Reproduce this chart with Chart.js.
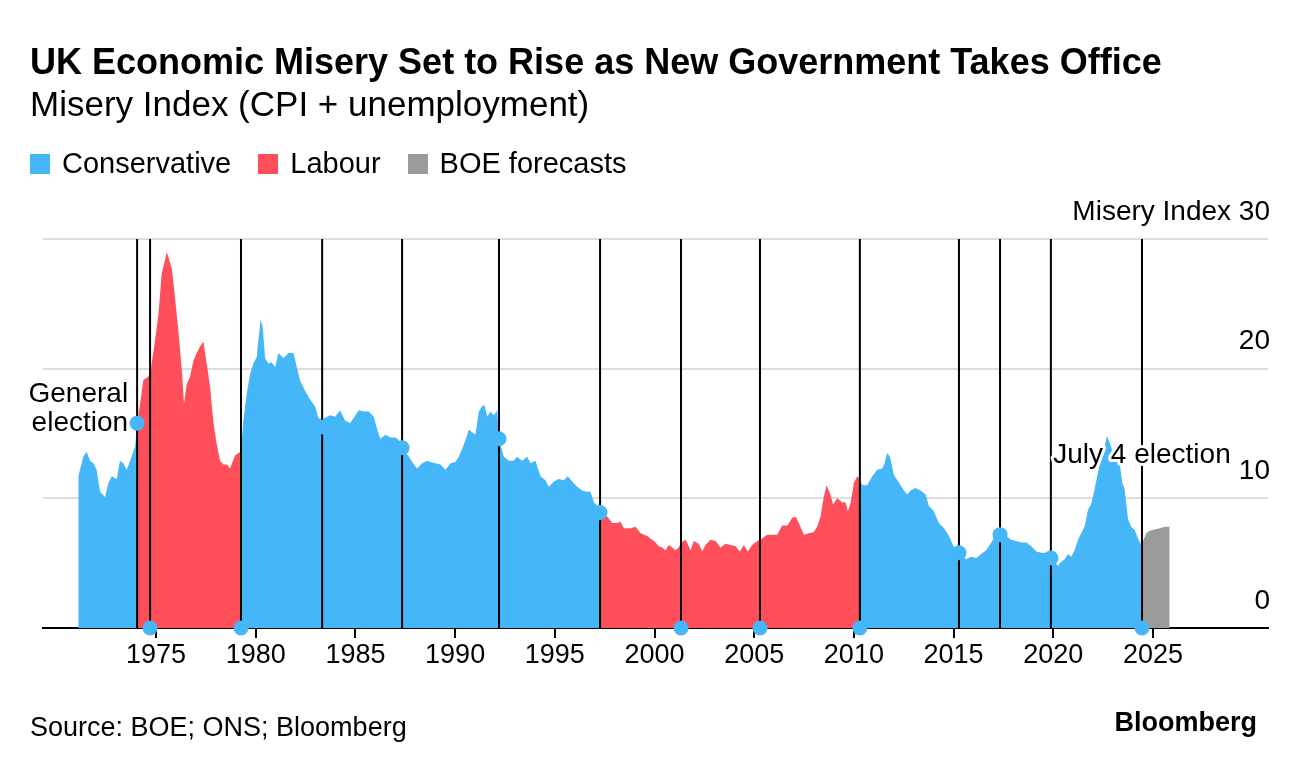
<!DOCTYPE html>
<html><head><meta charset="utf-8">
<script src="https://cdn.jsdelivr.net/npm/chart.js@4.4.1/dist/chart.umd.min.js"></script>
<style>
html,body{margin:0;padding:0;background:#fff;}
body{width:1296px;height:770px;position:relative;overflow:hidden;font-family:"Liberation Sans",Arial,sans-serif;color:#000;}
#chart{position:absolute;left:0;top:0;}
.t{position:absolute;white-space:nowrap;line-height:1;}
#title{left:30px;top:44px;font-size:36px;font-weight:bold;}
#subtitle{left:30px;top:86px;font-size:35px;}
#legend{position:absolute;left:30px;top:149px;font-size:29px;line-height:1;display:flex;white-space:nowrap;}
.item{display:flex;align-items:center;margin-right:27px;}
.sw{width:20px;height:20px;margin-right:12px;}
#source{left:30px;top:714px;font-size:27px;}
#logo{right:39px;top:709px;font-size:27px;font-weight:bold;}
</style></head>
<body>
<canvas id="chart" width="1296" height="770"></canvas>
<div class="t" id="title">UK Economic Misery Set to Rise as New Government Takes Office</div>
<div class="t" id="subtitle">Misery Index (CPI + unemployment)</div>
<div id="legend">
  <div class="item"><span class="sw" style="background:#45b6f8"></span>Conservative</div>
  <div class="item"><span class="sw" style="background:#ff4f5b"></span>Labour</div>
  <div class="item"><span class="sw" style="background:#9b9b9b"></span>BOE forecasts</div>
</div>
<div class="t" id="source">Source: BOE; ONS; Bloomberg</div>
<div class="t" id="logo">Bloomberg</div>
<script>
// ---- data (decimal years) ----
const dates = [
1971.10,1971.35,1971.52,1971.69,1971.86,1972.02,1972.19,1972.44,1972.61,1972.78,
1973.03,1973.19,1973.36,1973.53,1973.70,1973.95,1974.05,1974.20,1974.36,1974.62,
1974.70,1974.78,1974.95,1975.12,1975.28,1975.54,1975.79,1975.95,1976.12,1976.29,
1976.40,1976.54,1976.71,1976.87,1977.04,1977.21,1977.37,1977.54,1977.71,1977.88,
1978.04,1978.21,1978.38,1978.55,1978.71,1978.96,1979.13,1979.26,1979.38,1979.55,
1979.72,1979.88,1980.05,1980.13,1980.25,1980.35,1980.47,1980.64,1980.80,1980.97,
1981.14,1981.39,1981.64,1981.89,1982.06,1982.22,1982.47,1982.73,1982.98,1983.14,
1983.33,1983.73,1983.98,1984.23,1984.48,1984.73,1985.00,1985.17,1985.42,1985.67,
1985.92,1986.09,1986.25,1986.51,1986.76,1987.01,1987.17,1987.34,1987.68,1987.93,
1988.09,1988.34,1988.60,1988.76,1989.01,1989.26,1989.52,1989.77,1990.02,1990.18,
1990.35,1990.52,1990.69,1990.85,1991.02,1991.19,1991.35,1991.47,1991.61,1991.77,
1991.94,1992.11,1992.20,1992.44,1992.69,1992.94,1993.11,1993.36,1993.61,1993.78,
1994.03,1994.28,1994.53,1994.70,1994.95,1995.20,1995.45,1995.65,1995.87,1996.12,
1996.37,1996.62,1996.79,1996.96,1997.12,1997.27,1997.40,1997.63,1997.88,1998.13,
1998.29,1998.46,1998.80,1999.05,1999.30,1999.63,1999.97,2000.22,2000.38,2000.55,
2000.72,2000.89,2001.05,2001.22,2001.33,2001.56,2001.81,2001.97,2002.22,2002.39,
2002.56,2002.81,2003.06,2003.31,2003.56,2003.81,2004.06,2004.28,2004.48,2004.68,
2004.90,2005.15,2005.29,2005.40,2005.65,2005.90,2006.15,2006.40,2006.66,2006.91,
2007.07,2007.24,2007.49,2007.74,2007.99,2008.16,2008.33,2008.49,2008.63,2008.80,
2008.96,2009.16,2009.41,2009.58,2009.70,2009.83,2010.00,2010.17,2010.30,2010.42,
2010.67,2010.92,2011.17,2011.42,2011.54,2011.67,2011.81,2012.01,2012.26,2012.51,
2012.68,2012.84,2013.09,2013.34,2013.60,2013.76,2014.01,2014.26,2014.52,2014.77,
2015.02,2015.27,2015.64,2015.89,2016.14,2016.39,2016.64,2016.89,2017.14,2017.33,
2017.64,2017.89,2018.14,2018.39,2018.65,2018.90,2019.15,2019.40,2019.65,2019.88,
2020.07,2020.23,2020.40,2020.57,2020.74,2020.90,2021.07,2021.24,2021.40,2021.57,
2021.74,2021.91,2022.07,2022.24,2022.41,2022.58,2022.69,2022.83,2022.99,2023.16,
2023.33,2023.46,2023.58,2023.75,2023.91,2024.08,2024.25,2024.45
];
const misery = [
11.7,13.2,13.6,12.9,12.7,12.2,10.5,10.1,11.2,11.7,
11.5,12.9,12.7,12.2,12.9,14.0,15.8,17.3,19.1,19.4,
19.6,20.4,22.2,24.2,27.3,29.0,27.7,25.5,22.9,19.9,
17.3,18.8,19.4,20.6,21.2,21.7,22.1,20.4,18.6,15.8,
14.2,12.9,12.6,12.6,12.3,13.3,13.5,13.6,16.0,18.1,
19.6,20.4,20.9,22.2,23.8,23.2,20.8,20.4,20.5,20.1,
21.2,20.8,21.2,21.2,20.1,19.1,18.3,17.6,17.1,16.2,
16.1,16.4,16.3,16.8,16.0,15.8,16.4,16.8,16.7,16.7,
16.3,15.3,14.6,14.9,14.7,14.7,14.5,13.9,13.2,12.6,
12.3,12.7,12.9,12.8,12.7,12.6,12.2,12.7,12.8,13.2,
13.8,14.5,15.3,15.1,14.9,16.7,17.1,17.2,16.3,16.7,
16.4,16.8,14.6,13.2,12.9,12.9,13.2,12.9,13.2,12.7,
12.9,11.7,11.4,10.9,11.3,11.5,11.4,11.7,11.3,10.9,
10.6,10.5,10.5,9.7,9.4,8.9,8.7,8.6,8.1,8.1,
8.2,7.7,7.7,7.8,7.3,7.1,6.7,6.3,6.2,6.0,
6.4,6.2,6.0,6.2,6.6,6.8,6.0,6.7,6.5,5.9,
6.4,6.8,6.7,6.2,6.5,6.4,6.3,5.9,6.4,5.9,
6.4,6.7,6.8,6.9,7.2,7.2,7.2,7.9,7.9,8.5,
8.6,8.1,7.2,7.3,7.4,7.8,8.6,10.1,11.0,10.4,
9.5,10.0,9.7,9.7,9.0,9.6,11.2,11.7,11.5,11.0,
11.0,11.7,12.2,12.3,12.7,13.5,13.2,11.8,11.2,10.6,
10.3,10.6,10.8,10.6,10.3,9.4,9.0,8.1,7.7,7.1,
6.2,5.8,5.3,5.5,5.4,5.7,6.0,6.6,7.2,7.2,
7.1,6.8,6.7,6.6,6.6,6.3,5.9,5.8,5.8,5.4,
5.1,4.8,5.1,5.3,5.7,5.5,6.0,6.8,7.3,7.8,
9.1,9.6,10.7,12.0,13.2,14.0,14.8,14.3,13.5,13.2,
12.7,11.2,10.7,8.4,7.8,7.6,6.9,6.3
];
const forecastDates  = [2024.45,2024.50,2024.67,2024.83,2025.08,2025.33,2025.59,2025.84];
const forecastValues = [6.3,6.7,7.3,7.5,7.6,7.7,7.8,7.8];

const periodStarts  = [1971.10,1974.05,1979.26,1997.27,2010.30];
const periodEnds    = [1974.05,1979.26,1997.27,2010.30,2024.45];
const periodParties = ['Conservative','Labour','Conservative','Labour','Conservative'];

const electionDates = [1974.05,1974.70,1979.26,1983.33,1987.34,1992.20,1997.27,2001.33,2005.29,2010.30,2015.27,2017.33,2019.88,2024.45];
const electionMarkerValues = [15.8,0,0,15.5,13.9,14.6,8.9,0,0,0,5.8,7.2,5.4,0];

const xTickValues = [1975,1980,1985,1990,1995,2000,2005,2010,2015,2020,2025];
const yTickValues = [0,10,20,30];

// ---- styling ----
const BLUE = '#45b6f8', RED = '#ff4f5b', GREY = '#9b9b9b';
const FONT = '"Liberation Sans", Arial, sans-serif';

function partyData(party){
  return dates.map((d,i)=>{
    const inside = periodParties.some((p,k)=> p===party && d>=periodStarts[k] && d<=periodEnds[k]);
    return {x:d, y: inside ? misery[i] : null};
  });
}
const forecastData = forecastDates.map((d,i)=>({x:d,y:forecastValues[i]}));
const markerData = electionDates.map((d,i)=>({x:d,y:electionMarkerValues[i]}));
const lineData = electionDates.flatMap(d=>[{x:d,y:0},{x:d,y:30},{x:d,y:null}]);

const annotations = {
  id:'annotations',
  afterDatasetsDraw(chart){
    const {ctx, scales:{x,y}} = chart;
    ctx.save();
    ctx.font = '28px ' + FONT;
    ctx.textBaseline = 'middle';
    ctx.fillStyle = '#000';
    const gx = x.getPixelForValue(electionDates[0]) - 9;
    const gy = y.getPixelForValue(electionMarkerValues[0]);
    ctx.textAlign = 'right';
    ctx.fillText('General', gx, gy - 29);
    ctx.fillText('election', gx, gy);
    const jx = x.getPixelForValue(electionDates[electionDates.length-1]);
    const jy = y.getPixelForValue(13.3);
    ctx.textAlign = 'center';
    ctx.lineWidth = 6; ctx.lineJoin = 'round'; ctx.strokeStyle = '#fff';
    ctx.strokeText('July 4 election', jx, jy);
    ctx.fillText('July 4 election', jx, jy);
    ctx.restore();
  }
};

const areaStyle = {fill:'origin', borderWidth:0, borderColor:'rgba(0,0,0,0)', pointRadius:0, tension:0, spanGaps:false, order:2};

new Chart(document.getElementById('chart'), {
  type:'line',
  data:{datasets:[
    {label:'Election marker', data:markerData, showLine:false, pointRadius:7.5, pointHoverRadius:7.5,
     pointBackgroundColor:BLUE, pointBorderWidth:0, order:0, clip:false},
    {label:'Election', data:lineData, borderColor:'#000', borderWidth:2, pointRadius:0, fill:false, spanGaps:false, order:1, clip:false},
    Object.assign({label:'Conservative', data:partyData('Conservative'), backgroundColor:BLUE}, areaStyle),
    Object.assign({label:'Labour', data:partyData('Labour'), backgroundColor:RED}, areaStyle),
    Object.assign({label:'BOE forecasts', data:forecastData, backgroundColor:GREY}, areaStyle)
  ]},
  options:{
    responsive:false, animation:false, events:[],
    layout:{padding:{top:239,left:43,right:28,bottom:0}},
    plugins:{legend:{display:false}, tooltip:{enabled:false}},
    scales:{
      x:{type:'linear', min:1969.33, max:2030.77,
        afterBuildTicks:s=>{ s.ticks = xTickValues.map(v=>({value:v})); },
        afterFit:s=>{ s.height = 142; },
        grid:{drawOnChartArea:false, drawTicks:true, tickLength:10, color:'#000', lineWidth:2},
        border:{display:true, color:'#000', width:2},
        ticks:{font:{family:FONT,size:27}, color:'#000', padding:1, maxRotation:0, autoSkip:false, callback:v=>String(v)}
      },
      y:{position:'right', min:0, max:30,
        afterBuildTicks:s=>{ s.ticks = yTickValues.map(v=>({value:v})); },
        afterFit:s=>{ s.width = 0; },
        grid:{color:'#dddddd', lineWidth:2, drawTicks:false},
        border:{display:false},
        ticks:{mirror:true, padding:2, labelOffset:-27, font:{family:FONT,size:28}, color:'#000',
          callback:v=> v===30 ? 'Misery Index 30' : String(v)}
      }
    }
  },
  plugins:[annotations]
});
</script>
</body></html>
